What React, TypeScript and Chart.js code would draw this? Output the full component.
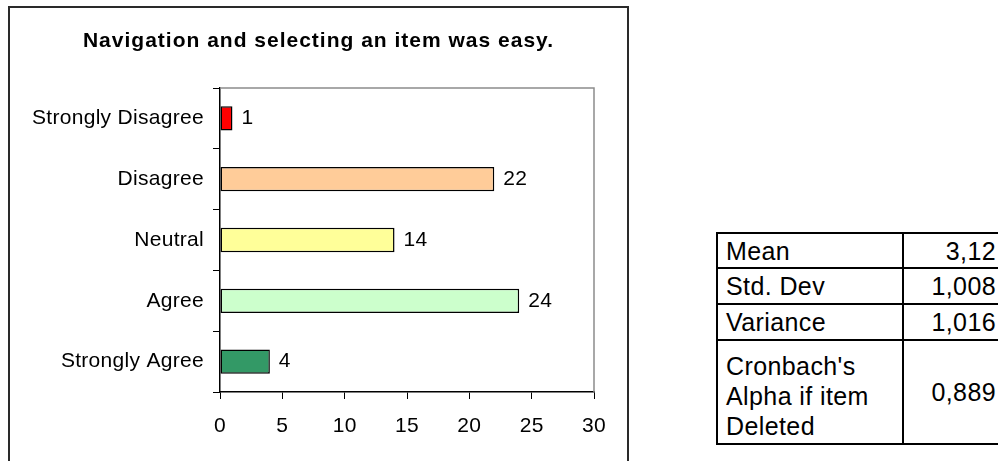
import React, { useEffect, useRef } from "react";
import { Chart, registerables } from "chart.js";

Chart.register(...registerables);

const FONT = '"Liberation Sans", Arial, Helvetica, sans-serif';

const chartTitle = "Navigation and selecting an item was easy.";
const categories = ["Strongly Disagree", "Disagree", "Neutral", "Agree", "Strongly Agree"];
const responses = [1, 22, 14, 24, 4];
const barColors = ["#FF0000", "#FFCC99", "#FFFF99", "#CCFFCC", "#339966"];
const xTicks = [0, 5, 10, 15, 20, 25, 30];

const statLabels = ["Mean", "Std. Dev", "Variance", "Cronbach's\nAlpha if item\nDeleted"];
const statValues = ["3,12", "1,008", "1,016", "0,889"];
const statRowHeights = [35, 36, 36, 104];

const CANVAS_W = 617;
const CANVAS_H = 455;
const TITLE_Y = 33;

// Title, grey frame on the top and right of the plot area, and the value next to each bar.
const plotDecor = {
  id: "plotDecor",
  beforeDraw(chart: any) {
    chart.ctx.letterSpacing = "0.3px";
  },
  afterDatasetsDraw(chart: any) {
    const { ctx, chartArea, width } = chart;
    const { left, right, top, bottom } = chartArea;
    ctx.save();
    ctx.strokeStyle = "#8c8c8c";
    ctx.lineWidth = 1.5;
    ctx.beginPath();
    ctx.moveTo(left, top);
    ctx.lineTo(right, top);
    ctx.lineTo(right, bottom);
    ctx.stroke();

    const meta = chart.getDatasetMeta(0);
    ctx.fillStyle = "#000";
    ctx.font = `21px ${FONT}`;
    ctx.letterSpacing = "0.3px";
    ctx.textAlign = "left";
    ctx.textBaseline = "middle";
    meta.data.forEach((bar: any, i: number) => {
      ctx.fillText(String(responses[i]), bar.x + 9, bar.y);
    });

    ctx.font = `bold 21px ${FONT}`;
    ctx.letterSpacing = "1px";
    ctx.textAlign = "center";
    ctx.fillText(chartTitle, width / 2, TITLE_Y);
    ctx.restore();
  },
};

function SurveyBarChart() {
  const canvasRef = useRef<HTMLCanvasElement | null>(null);

  useEffect(() => {
    if (!canvasRef.current) return;
    const chart = new Chart(canvasRef.current, {
      type: "bar",
      data: {
        labels: categories,
        datasets: [
          {
            data: responses,
            backgroundColor: barColors,
            borderColor: "#000",
            borderWidth: 1.5,
            borderSkipped: false,
            barPercentage: 0.4,
            categoryPercentage: 1,
          },
        ],
      },
      options: {
        indexAxis: "y",
        animation: false,
        responsive: false,
        maintainAspectRatio: false,
        devicePixelRatio: 1,
        layout: { padding: { left: 0, right: 33, top: 80, bottom: 0 } },
        plugins: {
          legend: { display: false },
          tooltip: { enabled: false },
          title: { display: false },
        },
        scales: {
          x: {
            type: "linear",
            min: 0,
            max: 30,
            afterBuildTicks: (scale: any) => {
              scale.ticks = xTicks.map((v) => ({ value: v }));
            },
            ticks: {
              color: "#000",
              font: { family: FONT, size: 21 },
              padding: 15,
              maxRotation: 0,
            },
            grid: { drawOnChartArea: false, tickLength: 7, color: "#000", lineWidth: 1 },
            border: { color: "#000", width: 1.5 },
            afterFit: (scale: any) => {
              scale.height = 71;
            },
          },
          y: {
            ticks: {
              color: "#000",
              font: { family: FONT, size: 21 },
              padding: 9,
            },
            grid: { drawOnChartArea: false, tickLength: 7, color: "#000", lineWidth: 1, offset: true },
            border: { color: "#000", width: 1.5 },
            afterFit: (scale: any) => {
              scale.width = 210;
            },
          },
        },
      },
      plugins: [plotDecor],
    } as any);
    return () => chart.destroy();
  }, []);

  return (
    <canvas
      ref={canvasRef}
      width={CANVAS_W}
      height={CANVAS_H}
      style={{ display: "block", width: CANVAS_W, height: CANVAS_H }}
    />
  );
}

function StatsTable() {
  const cell: React.CSSProperties = {
    border: "2px solid #000",
    padding: "0 6px 0 8px",
    verticalAlign: "middle",
    whiteSpace: "pre-line",
    lineHeight: "30px",
  };
  const last = statLabels.length - 1;
  return (
    <table
      style={{
        position: "absolute",
        left: 716,
        top: 232,
        borderCollapse: "collapse",
        fontFamily: FONT,
        fontSize: 25,
        letterSpacing: "0.4px",
        color: "#000",
        tableLayout: "fixed",
        width: 290,
      }}
    >
      <colgroup>
        <col style={{ width: 186 }} />
        <col style={{ width: 104 }} />
      </colgroup>
      <tbody>
        {statLabels.map((label, i) => (
          <tr key={label} style={{ height: statRowHeights[i] }}>
            <td
              style={{
                ...cell,
                textAlign: "left",
                ...(i === last ? { verticalAlign: "bottom", paddingBottom: 2 } : {}),
              }}
            >
              {label}
            </td>
            <td style={{ ...cell, textAlign: "right", paddingRight: 10 }}>{statValues[i]}</td>
          </tr>
        ))}
      </tbody>
    </table>
  );
}

export default function App() {
  return (
    <div
      style={{
        position: "fixed",
        left: 0,
        top: 0,
        width: 998,
        height: 461,
        overflow: "hidden",
        background: "#fff",
        fontFamily: FONT,
      }}
    >
      <div
        style={{
          position: "absolute",
          left: 8,
          top: 6,
          width: CANVAS_W,
          height: 480,
          border: "2px solid #2a2a2a",
        }}
      >
        <SurveyBarChart />
      </div>
      <StatsTable />
    </div>
  );
}
